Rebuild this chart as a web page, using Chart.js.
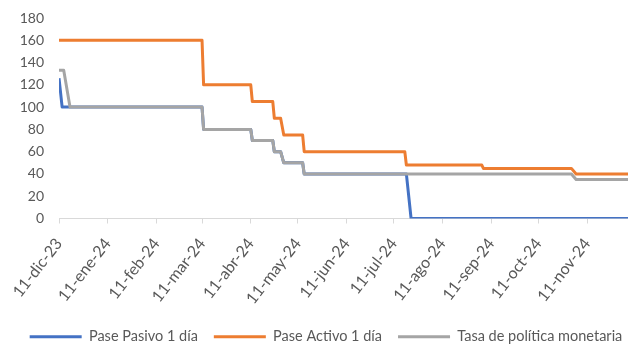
<!DOCTYPE html>
<html>
<head>
<meta charset="utf-8">
<script src="https://cdn.jsdelivr.net/npm/chart.js@4.4.1/dist/chart.umd.min.js"></script>
<style>
  html, body { margin: 0; padding: 0; background: #ffffff; }
  #wrap { width: 628px; height: 344px; position: relative; }
</style>
</head>
<body>
<div id="wrap"><canvas id="c"></canvas></div>
<script>
// Axis origin and monthly ticks
const fechaInicio = '2023-12-11';
const fechaFin = '2024-12-07';
const ticksFechas = ['2023-12-11','2024-01-11','2024-02-11','2024-03-11','2024-04-11','2024-05-11',
                     '2024-06-11','2024-07-11','2024-08-11','2024-09-11','2024-10-11','2024-11-11'];
const ticksEtiquetas = ['11-dic-23','11-ene-24','11-feb-24','11-mar-24','11-abr-24','11-may-24',
                        '11-jun-24','11-jul-24','11-ago-24','11-sep-24','11-oct-24','11-nov-24'];

// Pase Pasivo 1 día (%)
const pasivoFechas = ['2023-12-11','2023-12-13','2024-03-11','2024-03-12','2024-04-11','2024-04-12',
                      '2024-04-25','2024-04-26','2024-04-30','2024-05-02','2024-05-14','2024-05-15',
                      '2024-07-19','2024-07-22','2024-12-07'];
const pasivoValores = [126, 100, 100, 80, 80, 70, 70, 60, 60, 50, 50, 40, 40, 0, 0];

// Pase Activo 1 día (%)
const activoFechas = ['2023-12-11','2024-03-11','2024-03-12','2024-04-11','2024-04-12','2024-04-25',
                      '2024-04-26','2024-04-30','2024-05-02','2024-05-14','2024-05-15','2024-07-18',
                      '2024-07-19','2024-09-05','2024-09-06','2024-11-01','2024-11-04','2024-12-07'];
const activoValores = [160, 160, 120, 120, 105, 105, 90, 90, 75, 75, 60, 60, 48, 48, 45, 45, 40, 40];

// Tasa de política monetaria (%)
const tpmFechas = ['2023-12-11','2023-12-14','2023-12-18','2024-03-11','2024-03-12','2024-04-11',
                   '2024-04-12','2024-04-25','2024-04-26','2024-04-30','2024-05-02','2024-05-14',
                   '2024-05-15','2024-11-01','2024-11-04','2024-12-07'];
const tpmValores = [133, 133, 100, 100, 80, 80, 70, 70, 60, 60, 50, 50, 40, 40, 35, 35];

// Days elapsed since the first date, used as the linear x value
const DIA = 86400000;
function aUTC(s) { const [y, m, d] = s.split('-').map(Number); return Date.UTC(y, m - 1, d); }
function dia(s) { return Math.round((aUTC(s) - aUTC(fechaInicio)) / DIA); }
function serie(fechas, valores) { return fechas.map((f, i) => ({ x: dia(f), y: valores[i] })); }

const FONT = 'Lato';
const TEXTO = '#595959';

// Nudge the legend row right and down inside its box
const legendShift = {
  id: 'legendShift',
  afterLayout(chart) {
    const lg = chart.legend;
    if (lg) { lg.left += 12; lg.right += 12; lg.top += 10; lg.bottom += 10; }
  }
};

const linea = (label, data, color, order) => ({
  label, data, borderColor: color, backgroundColor: color, borderWidth: 3, order
});

new Chart(document.getElementById('c'), {
  type: 'line',
  data: {
    datasets: [
      linea('Pase Pasivo 1 día', serie(pasivoFechas, pasivoValores), '#4472C4', 3),
      linea('Pase Activo 1 día', serie(activoFechas, activoValores), '#ED7D31', 2),
      linea('Tasa de política monetaria', serie(tpmFechas, tpmValores), '#A5A5A5', 1)
    ]
  },
  options: {
    responsive: true,
    maintainAspectRatio: false,
    animation: false,
    devicePixelRatio: 1,
    elements: {
      line: { tension: 0, borderJoinStyle: 'round', borderCapStyle: 'butt' },
      point: { radius: 0, hoverRadius: 0 }
    },
    layout: { padding: { left: 0, right: 0, top: 18, bottom: 0 } },
    scales: {
      x: {
        type: 'linear',
        min: 0,
        max: dia(fechaFin),
        afterBuildTicks(scale) { scale.ticks = ticksFechas.map(f => ({ value: dia(f) })); },
        afterFit(scale) { scale.height = 85; },
        grid: { drawOnChartArea: false, drawTicks: true, tickLength: 5, color: '#D9D9D9' },
        border: { display: true, color: '#D9D9D9', width: 1 },
        ticks: {
          autoSkip: false, maxRotation: 52, minRotation: 52, padding: 11,
          color: TEXTO, font: { family: FONT, size: 16 },
          callback(value) {
            const i = ticksFechas.findIndex(f => dia(f) === value);
            return i >= 0 ? ticksEtiquetas[i] : '';
          }
        }
      },
      y: {
        min: 0, max: 180,
        afterFit(scale) { scale.width = 59; scale.paddingTop = 0; scale.paddingBottom = 0; },
        grid: { display: false, drawTicks: false },
        border: { display: false },
        ticks: { stepSize: 20, padding: 15, color: TEXTO, font: { family: FONT, size: 14 } }
      }
    },
    plugins: {
      legend: {
        position: 'bottom',
        labels: {
          usePointStyle: true, pointStyle: 'line', pointStyleWidth: 52,
          padding: 16, color: TEXTO, font: { family: FONT, size: 14.5 },
          sort: (a, b) => a.datasetIndex - b.datasetIndex
        }
      },
      tooltip: { enabled: false }
    }
  },
  plugins: [legendShift]
});
</script>
</body>
</html>
